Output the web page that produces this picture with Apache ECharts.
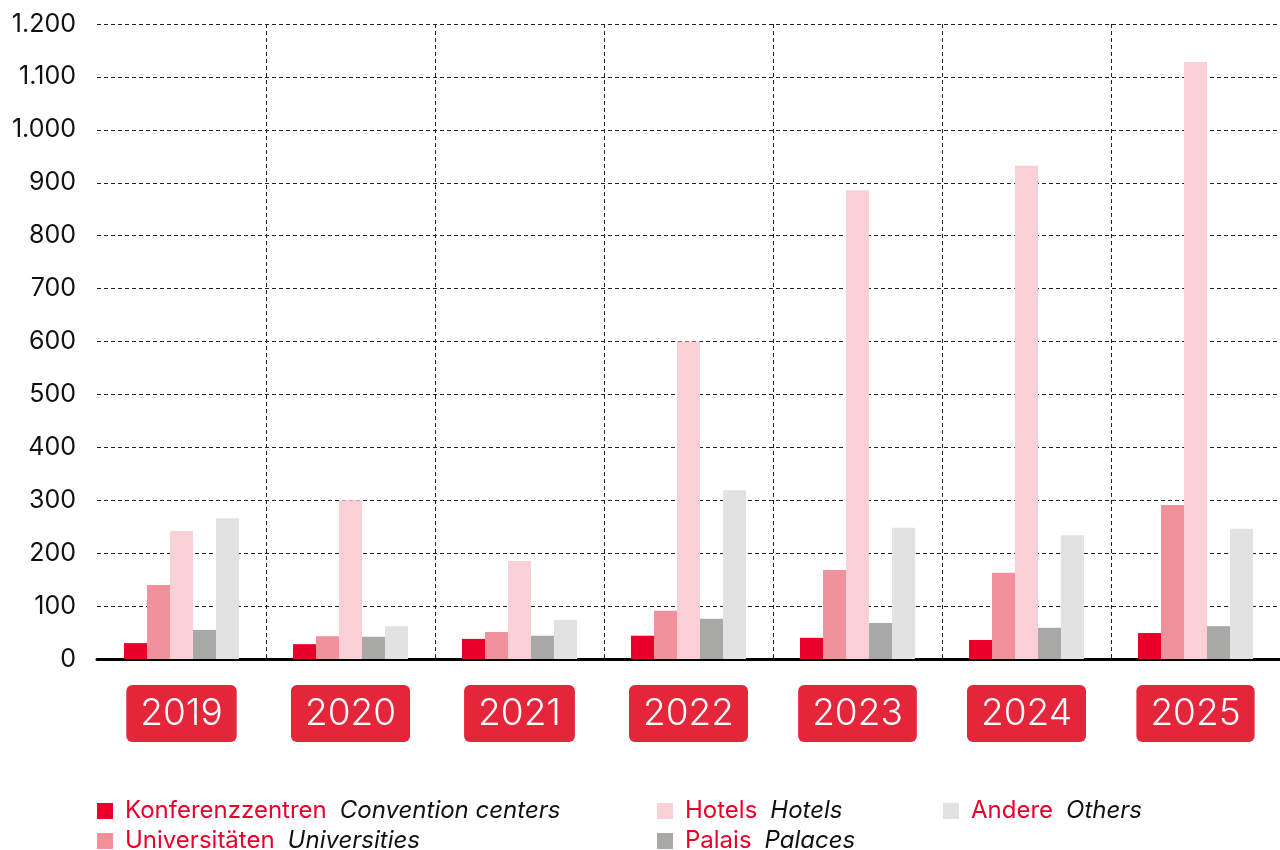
<!DOCTYPE html>
<html><head><meta charset="utf-8">
<script src="https://cdn.jsdelivr.net/npm/echarts@6/dist/echarts.min.js"></script>
<style>html,body{margin:0;padding:0;background:#fff}#c{width:1280px;height:850px}</style>
</head><body><div id="c"></div>
<script>
const years = ['2019','2020','2021','2022','2023','2024','2025'];
const konferenz = [30, 28, 38, 44, 40, 36, 49];
const universitaeten = [140, 43, 51, 91, 168, 163, 291];
const hotels = [242, 300, 185, 600, 886, 932, 1128];
const palais = [55, 42, 44, 76, 68, 59, 62];
const andere = [266, 62, 74, 319, 248, 234, 246];
const names = {
  'Konferenzzentren': 'Convention centers',
  'Universitäten': 'Universities',
  'Hotels': 'Hotels',
  'Palais': 'Palaces',
  'Andere': 'Others'
};
const colors = ['#E8002A', '#F0919B', '#F9D0D6', '#A8A8A6', '#E2E2E2'];
const FONT = 'Inter, "Noto Sans", sans-serif';

const chart = echarts.init(document.getElementById('c'), null, {renderer: 'canvas'});
function lg(name, left, top) {
  return {
    data: [name], left, top, orient: 'horizontal',
    itemWidth: 16, itemHeight: 16, icon: 'rect', padding: 0, selectedMode: false,
    formatter: n => '{de|' + n + '}{en|' + names[n] + '}',
    textStyle: {
      rich: {
        de: {color: '#E8002A', fontSize: 24, lineHeight: 22, fontFamily: FONT, padding: [0, 13, 0, 7]},
        en: {color: '#111', fontSize: 24, lineHeight: 22, fontFamily: FONT, fontStyle: 'italic'}
      }
    }
  };
}
function mk(name, data, i) {
  return {name, type: 'bar', data, barWidth: 23, barGap: '0%', itemStyle: {color: colors[i]}, emphasis: {disabled: true}};
}
chart.setOption({
  animation: false,
  grid: {left: 97, top: 24, width: 1190, height: 635, containLabel: false},
  legend: [
    lg('Konferenzzentren', 97, 799),
    lg('Universitäten', 97, 829),
    lg('Hotels', 657, 799),
    lg('Palais', 657, 829),
    lg('Andere', 943, 799)
  ],
  xAxis: {
    type: 'category', data: years,
    axisLine: {lineStyle: {color: '#000', width: 3}},
    axisTick: {show: false},
    splitLine: {show: true, showMinLine: false, lineStyle: {color: '#222', type: [4, 3], width: 1}},
    axisLabel: {
      margin: 26, color: '#fff', fontSize: 37, fontFamily: FONT, fontWeight: 300,
      backgroundColor: '#E5253A', borderRadius: 6, padding: [8, 14, 8, 14], lineHeight: 41
    }
  },
  yAxis: {
    type: 'value', min: 0, max: 1200, interval: 100,
    axisLine: {show: false}, axisTick: {show: false},
    splitLine: {lineStyle: {color: '#222', type: [4, 3], width: 1}},
    axisLabel: {
      margin: 21, color: '#111', fontSize: 25, fontFamily: FONT,
      formatter: v => String(v).replace(/\B(?=(\d{3})+(?!\d))/g, '.')
    }
  },
  series: [
    mk('Konferenzzentren', konferenz, 0),
    mk('Universitäten', universitaeten, 1),
    mk('Hotels', hotels, 2),
    mk('Palais', palais, 3),
    mk('Andere', andere, 4)
  ]
});
</script></body></html>
